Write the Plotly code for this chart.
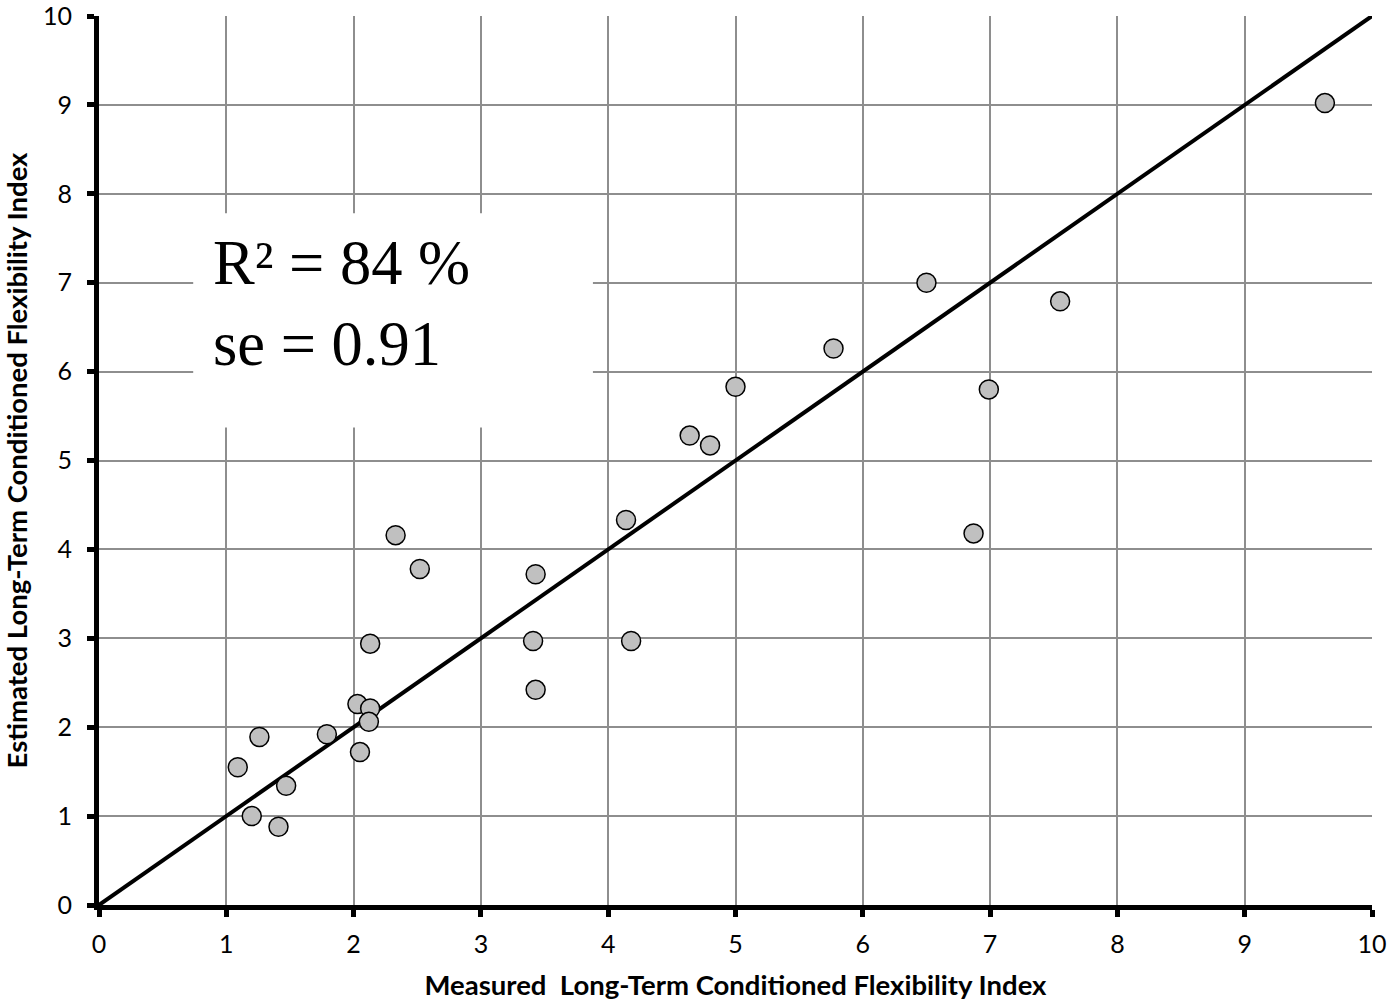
import plotly.graph_objects as go

measured = [9.63, 6.50, 7.55, 5.77, 6.99, 5.00, 4.64, 4.80, 6.87, 4.14, 2.33, 2.52, 3.43, 3.41,
            4.18, 3.43, 2.13, 2.03, 2.13, 2.12, 1.79, 1.26, 1.09, 1.47, 1.20, 1.41, 2.05]
estimated = [9.02, 7.00, 6.79, 6.26, 5.80, 5.83, 5.28, 5.17, 4.18, 4.33, 4.16, 3.78, 3.72, 2.97,
             2.97, 2.42, 2.94, 2.26, 2.21, 2.06, 1.92, 1.89, 1.55, 1.34, 1.00, 0.88, 1.72]
line_x = [0, 10]
line_y = [0, 10]
tick_vals = list(range(0, 11))
tick_text = [str(v) for v in tick_vals]

x_title = "Measured  Long-Term Conditioned Flexibility Index"
y_title = "Estimated Long-Term Conditioned Flexibility Index"
stats_text = "R² = 84 %<br>se = 0.91"

fig = go.Figure()
fig.add_trace(go.Scatter(x=line_x, y=line_y, mode="lines",
                         line=dict(color="black", width=4), showlegend=False,
                         hoverinfo="skip"))
fig.add_trace(go.Scatter(x=measured, y=estimated, mode="markers",
                         marker=dict(size=19, color="#c0c0c0",
                                     line=dict(color="black", width=1.5)),
                         showlegend=False, cliponaxis=False))

fig.add_shape(type="rect", xref="x", yref="y", x0=0.74, x1=3.88, y0=5.37, y1=7.78,
              fillcolor="white", line=dict(width=0), layer="above")
fig.add_annotation(xref="x", yref="y", x=0.88, y=6.77, xanchor="left", yanchor="middle",
                   text=stats_text, showarrow=False, align="left",
                   font=dict(family="Liberation Serif", size=62.5, color="black"))

axis_common = dict(range=[0, 10], tickvals=tick_vals, ticktext=tick_text,
                   showgrid=True, gridcolor="#8e8e8e", gridwidth=1.5,
                   showline=True, linecolor="black", linewidth=5,
                   ticks="outside", ticklen=7, tickwidth=5, tickcolor="black",
                   zeroline=False, automargin=False, ticklabeloverflow="allow",
                   tickfont=dict(family="Lato", size=25, color="black"))

fig.update_xaxes(**axis_common, ticklabelstandoff=6,
                 title=dict(text="<b>" + x_title + "</b>", standoff=20,
                            font=dict(family="Lato", size=27.5, color="black")))
fig.update_yaxes(**axis_common, ticklabelstandoff=10,
                 title=dict(text="<b>" + y_title + "</b>", standoff=22,
                            font=dict(family="Lato", size=27.5, color="black")))

fig.update_layout(template="none", width=1391, height=1002,
                  margin=dict(l=99, r=19, t=16, b=97),
                  plot_bgcolor="white", paper_bgcolor="white")

fig.write_html("out.html", config={"displayModeBar": False},
               post_script="document.body.style.margin='0px';document.body.style.overflow='hidden';")
